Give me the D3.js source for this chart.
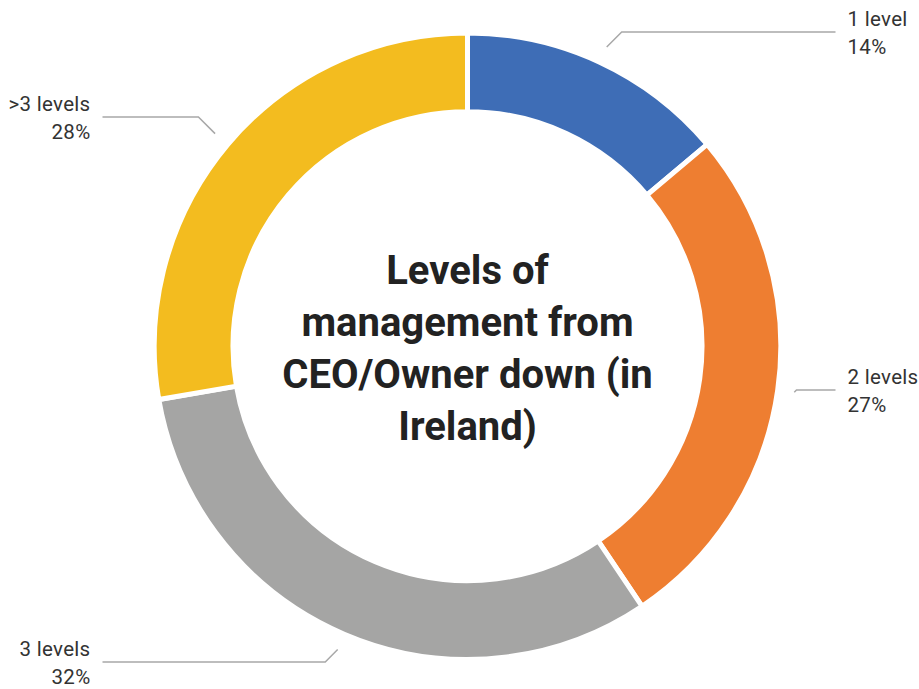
<!DOCTYPE html>
<html>
<head>
<meta charset="utf-8">
<script src="https://cdn.jsdelivr.net/npm/d3@7"></script>
<style>
  html, body { margin: 0; padding: 0; background: #fff; }
  svg { display: block; }
</style>
</head>
<body>
<div id="chart"></div>
<script>
const categories = ["1 level", "2 levels", "3 levels", ">3 levels"];
const values = [14, 27, 32, 28];
const percentLabels = ["14%", "27%", "32%", "28%"];
const colors = ["#3e6db6", "#ee7e31", "#a5a5a4", "#f3bc1f"];
const titleLines = ["Levels of", "management from", "CEO/Owner down (in", "Ireland)"];
// label elbow y positions (where the horizontal leader runs)
const labelY = [32, 390, 662, 117];

const W = 919, H = 689;
const cx = 467.5, cy = 346.2;
const rOut = 310.8, rIn = 237, gap = 5;

const svg = d3.select("#chart").append("svg")
  .attr("width", W).attr("height", H);

const pie = d3.pie().sort(null).value(d => d)(values);
const arc = d3.arc().innerRadius(rIn - gap / 2).outerRadius(rOut + gap / 2);

const g = svg.append("g").attr("transform", `translate(${cx},${cy})`);

g.selectAll("path.slice").data(pie).join("path")
  .attr("class", "slice")
  .attr("d", arc)
  .attr("fill", (d, i) => colors[i])
  .attr("stroke", "#fff")
  .attr("stroke-width", gap)
  .attr("stroke-linejoin", "miter");

// leader lines and labels
const rLead = 330;
const lineEndX = 367;
pie.forEach((d, i) => {
  const a = (d.startAngle + d.endAngle) / 2;
  const x0 = rLead * Math.sin(a), y0 = -rLead * Math.cos(a);
  const ly = labelY[i] - cy;
  const right = Math.sin(a) > 0;
  const dy = ly - y0;
  const ex = x0 + (right ? 1 : -1) * Math.abs(dy);
  const endX = right ? lineEndX + 1 : -lineEndX + 2;
  g.append("polyline")
    .attr("points", [[x0, y0], [ex, ly], [endX, ly]].map(p => p.join(",")).join(" "))
    .attr("fill", "none")
    .attr("stroke", "#a8a8a8")
    .attr("stroke-width", 1.5);
  const tx = right ? endX + 12 : endX - 12;
  const t = g.append("text")
    .attr("x", tx)
    .attr("text-anchor", right ? "start" : "end")
    .attr("font-family", "Roboto, sans-serif")
    .attr("font-size", 20.5)
    .attr("letter-spacing", 0.3)
    .attr("fill", "#333");
  t.append("tspan").attr("x", tx).attr("y", ly - 6).text(categories[i]);
  t.append("tspan").attr("x", tx).attr("y", ly + 22).text(percentLabels[i]);
});

// centre title
const title = svg.append("text")
  .attr("text-anchor", "middle")
  .attr("font-family", "Roboto, sans-serif")
  .attr("font-weight", "bold")
  .attr("font-size", 40)
  .attr("fill", "#222");
const baselines = [284, 336, 388, 440];
titleLines.forEach((l, i) => {
  title.append("tspan").attr("x", cx).attr("y", baselines[i]).text(l);
});
</script>
</body>
</html>
